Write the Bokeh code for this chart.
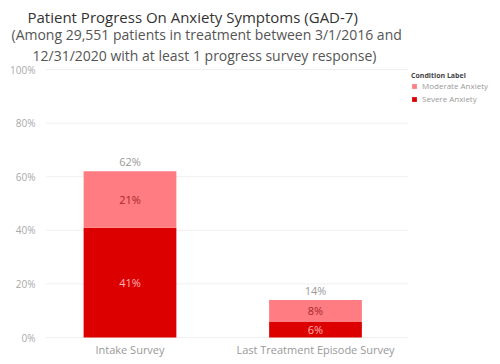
from bokeh.plotting import figure
from bokeh.models import (ColumnDataSource, Range1d, FixedTicker, PrintfTickFormatter,
                          Title, Legend, LegendItem)
from bokeh.core.properties import value
from bokeh.embed import file_html
from bokeh.resources import INLINE

categories = ["Intake Survey", "Last Treatment Episode Survey"]
severe = [41, 6]
moderate = [21, 8]
totals = [62, 14]
severe_labels = ["41%", "6%"]
moderate_labels = ["21%", "8%"]
total_labels = ["62%", "14%"]
series_names = ["Moderate Anxiety", "Severe Anxiety"]
y_ticks = [0, 20, 40, 60, 80, 100]
title_text = "Patient Progress On Anxiety Symptoms (GAD-7)"
subtitle_lines = ["(Among 29,551 patients in treatment between 3/1/2016 and",
                  "12/31/2020 with at least 1 progress survey response)"]

FONT = "Open Sans"
xs = list(range(len(categories)))
X_START, X_END = -0.4555, 1.9973
Y_START, Y_END = -10.07, 101.87
PANE_END = 1.5013  # right edge of the chart pane (legend sits to its right)

src = ColumnDataSource(dict(
    x=xs, severe=severe, moderate=moderate, total=totals,
    sev_mid=[s / 2 for s in severe],
    mod_mid=[s + m / 2 for s, m in zip(severe, moderate)],
    sev_lab=severe_labels, mod_lab=moderate_labels, tot_lab=total_labels,
    cat=categories, zero=[0] * len(xs),
))
grid_src = ColumnDataSource(dict(y=y_ticks, x0=[X_START] * len(y_ticks),
                                 x1=[PANE_END] * len(y_ticks)))

p = figure(width=500, height=364, output_backend="svg", toolbar_location=None,
           x_range=Range1d(X_START, X_END), y_range=Range1d(Y_START, Y_END),
           min_border_left=45, min_border_right=0, min_border_top=64, min_border_bottom=0)
p.title = None
p.outline_line_color = None
p.background_fill_color = "white"
p.border_fill_color = "white"

p.segment(x0="x0", x1="x1", y0="y", y1="y", source=grid_src,
          line_color="#efefef", line_width=1)

rs = p.vbar_stack(["severe", "moderate"], x="x", width=0.5, source=src,
                  color=["#dc0000", "#ff7c82"], line_color=None)

p.text(x="x", y="sev_mid", text="sev_lab", source=src, text_align="center",
       text_baseline="middle", text_color="#ffb4b4", text_font_size="11px",
       text_font=value(FONT))
p.text(x="x", y="mod_mid", text="mod_lab", source=src, text_align="center",
       text_baseline="middle", text_color="#a8262e", text_font_size="11px",
       text_font=value(FONT))
p.text(x="x", y="total", text="tot_lab", source=src, text_align="center",
       text_baseline="bottom", y_offset=-2, text_color="#999999", text_font_size="11px",
       text_font=value(FONT))
# category labels under the bars
p.text(x="x", y="zero", text="cat", source=src, text_align="center",
       text_baseline="middle", y_offset=12, text_color="#999999", text_font_size="11px",
       text_font=value(FONT))

# y axis
p.yaxis.ticker = FixedTicker(ticks=y_ticks)
p.yaxis.formatter = PrintfTickFormatter(format="%d%%")
p.yaxis.axis_line_color = None
p.yaxis.major_tick_line_color = None
p.yaxis.minor_tick_line_color = None
p.yaxis.major_tick_out = 0
p.yaxis.major_tick_in = 0
p.yaxis.minor_tick_out = 0
p.yaxis.major_label_standoff = 10
p.yaxis.major_label_text_color = "#aaaaaa"
p.yaxis.major_label_text_font = FONT
p.yaxis.major_label_text_font_size = "10px"

p.xaxis.visible = False
p.xgrid.grid_line_color = None
p.ygrid.grid_line_color = None

# titles: added nearest-to-frame first
p.add_layout(Title(text=subtitle_lines[1], align="left", offset=-13, standoff=0,
                   text_font=FONT, text_font_size="14px", text_font_style="normal",
                   text_color="#555555"), "above")
p.add_layout(Title(text=subtitle_lines[0], align="left", offset=-34, standoff=0,
                   text_font=FONT, text_font_size="14px", text_font_style="normal",
                   text_color="#555555"), "above")
p.add_layout(Title(text=title_text, align="left", offset=-18, standoff=-8,
                   text_font=FONT, text_font_size="15px", text_font_style="normal",
                   text_color="#333333"), "above")

legend = Legend(items=[LegendItem(label=series_names[0], renderers=[rs[1]]),
                       LegendItem(label=series_names[1], renderers=[rs[0]])],
                title="Condition Label", location=(366, 260))
legend.title_text_font = FONT
legend.title_text_font_size = "7px"
legend.title_text_font_style = "bold"
legend.title_text_color = "#444444"
legend.title_standoff = 0
legend.label_text_font = FONT
legend.label_text_font_size = "8px"
legend.label_text_color = "#999999"
legend.label_width = 72
legend.glyph_width = 6
legend.glyph_height = 6
legend.label_height = 9
legend.label_standoff = 5
legend.spacing = 2
legend.padding = 1
legend.margin = 0
legend.border_line_color = None
legend.background_fill_alpha = 0
p.add_layout(legend)

open("out.html", "w").write(file_html(p, INLINE))
